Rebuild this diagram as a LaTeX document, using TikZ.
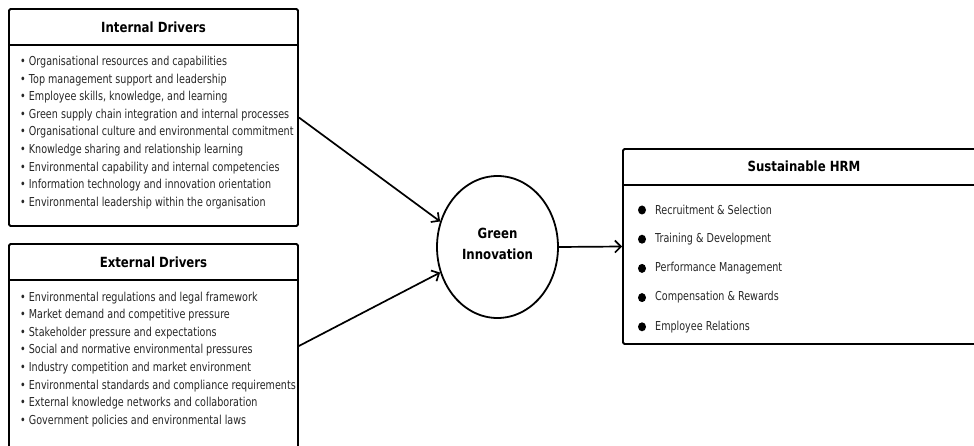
\documentclass[tikz,border=0pt]{standalone}
\usepackage{fontspec}
\setmainfont{DejaVu Sans}[FakeStretch=0.78]
\newfontfamily\headfont{DejaVu Sans}[FakeStretch=0.84]
\usetikzlibrary{arrows.meta,shapes.geometric}
\tikzset{
  panel/.style={draw=black,line width=1.8pt,rounded corners=1.5pt,inner sep=0pt},
  rule/.style={line width=1.8pt},
  head/.style={font=\headfont\fontsize{14}{16}\selectfont\bfseries,anchor=center,inner sep=0pt},
  items/.style={font=\fontsize{12.3}{17.6}\selectfont,align=left,anchor=north west,inner sep=0pt,text=black!85},
  hrmitem/.style={font=\fontsize{12.3}{15}\selectfont,anchor=west,inner sep=0pt,text=black!85},
  dot/.style={ellipse,fill=black,inner sep=0pt,minimum width=8pt,minimum height=9pt},
  link/.style={line width=1.7pt,-{Straight Barb[length=6pt,width=12pt,line width=1.7pt]}},
}
\begin{document}
\begin{tikzpicture}[x=1pt,y=-1pt]
\useasboundingbox (0,0) rectangle (974,446);
\clip (0,0) rectangle (974,446);
% Internal Drivers
\node[panel,minimum width=289pt,minimum height=217pt] (intbox) at (153.5,117.5) {};
\draw[rule] (9,45) coordinate (ih1) -- (298,45) coordinate (ih2);
\node[head] (inthead) at (153.5,27) {Internal Drivers};
\node[items] (intlist) at (20,56) {%
• Organisational resources and capabilities\\
• Top management support and leadership\\
• Employee skills, knowledge, and learning\\
• Green supply chain integration and internal processes\\
• Organisational culture and environmental commitment\\
• Knowledge sharing and relationship learning\\
• Environmental capability and internal competencies\\
• Information technology and innovation orientation\\
• Environmental leadership within the organisation};
% External Drivers
\node[panel,minimum width=289pt,minimum height=204pt] (extbox) at (153.5,346) {};
\draw[rule] (9,280) coordinate (eh1) -- (298,280) coordinate (eh2);
\node[head] (exthead) at (153.5,262) {External Drivers};
\node[items] (extlist) at (20,291.5) {%
• Environmental regulations and legal framework\\
• Market demand and competitive pressure\\
• Stakeholder pressure and expectations\\
• Social and normative environmental pressures\\
• Industry competition and market environment\\
• Environmental standards and compliance requirements\\
• External knowledge networks and collaboration\\
• Government policies and environmental laws};
% Green Innovation
\node[ellipse,draw=black,line width=1.8pt,minimum width=121pt,minimum height=142pt,inner sep=0pt] (gi) at (497.5,247) {};
\node[align=center,inner sep=0pt,font=\headfont\fontsize{14}{21}\selectfont\bfseries] (gitext) at (497.5,244) {Green\\Innovation};
% Sustainable HRM
\node[panel,minimum width=362pt,minimum height=195pt] (hrm) at (804,246.5) {};
\draw[rule] (623,185) coordinate (hh1) -- (985,185) coordinate (hh2);
\node[head] (hrmhead) at (804,166) {Sustainable HRM};
\foreach \i/\t in {0/Recruitment \& Selection,1/Training \& Development,2/Performance Management,3/Compensation \& Rewards,4/Employee Relations}{
  \node[dot] (d\i) at (642,210+29.2*\i) {};
  \node[hrmitem] (h\i) at (655,210+29.2*\i) {\t};
}
% connectors
\draw[link] (intbox.east) -- (gi.156);
\draw[link] (extbox.east) -- (gi.204);
\draw[link] (gi.east) -- (hrm.west);
\end{tikzpicture}
\end{document}
